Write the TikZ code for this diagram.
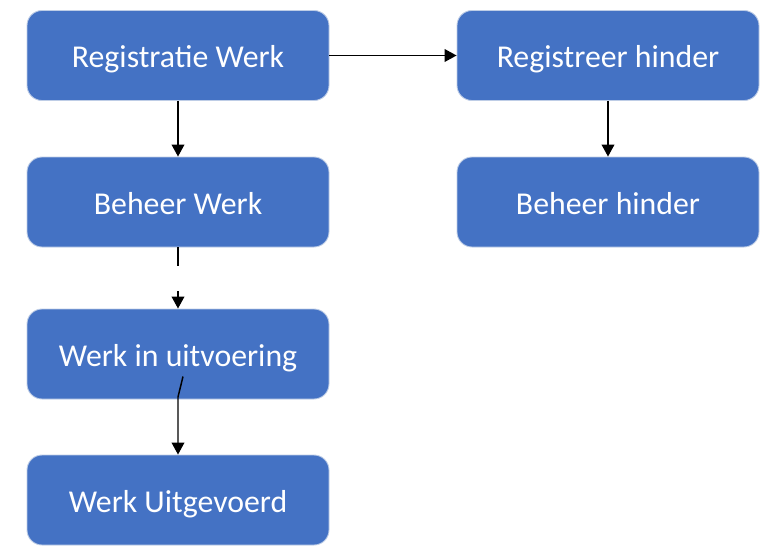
\documentclass[tikz,border=0pt]{standalone}
\usepackage{fontspec}
\setmainfont{Carlito}
\usetikzlibrary{arrows.meta,calc}

\begin{document}
\begin{tikzpicture}[
    stapbox/.style={rectangle, rounded corners=0.3cm, fill={rgb,255:red,68;green,114;blue,196},
      draw={rgb,255:red,190;green,205;blue,230}, line width=0.5pt,
      minimum width=6.04cm, minimum height=1.8cm, text=white,
      text height=16pt, text depth=2pt,
      font=\fontsize{18.1pt}{20pt}\selectfont},
    pijl/.style={-{Triangle[length=6.8pt,width=7.2pt]}, line width=0.85pt}
  ]

  % vaste rand, zelfde maten als het origineel
  \useasboundingbox (0,0) rectangle (15.36,-11.14);

  % linker kolom
  \node[stapbox] (regwerk) at (3.56,-1.11) {Registratie Werk};
  \node[stapbox] (beheerwerk) at (3.56,-4.04) {Beheer Werk};
  \node[stapbox] (uitvoering) at (3.56,-7.08) {Werk in uitvoering};
  \node[stapbox] (uitgevoerd) at (3.56,-10.0) {Werk Uitgevoerd};

  % rechter kolom
  \node[stapbox] (reghinder) at (12.16,-1.11) {Registreer hinder};
  \node[stapbox] (beheerhinder) at (12.16,-4.04) {Beheer hinder};

  % pijlen
  \draw[pijl] (regwerk) -- (reghinder);
  \draw[pijl] (regwerk) -- (beheerwerk);
  \draw[pijl] (reghinder) -- (beheerhinder);

  % onderbroken lijn tussen beheer en uitvoering
  \draw[pijl, dash pattern=on 0.38cm off 0.5cm on 2cm] (beheerwerk) -- (uitvoering);

  % lijn begint in de tekst, knikt en gaat recht naar beneden
  \coordinate (knikstart) at ($(uitvoering.center)+(0.1,-0.45)$);
  \coordinate (knik) at ($(uitvoering.south)+(0,0.05)$);
  \draw[pijl] (knikstart) -- (knik) -- (uitgevoerd.north);

\end{tikzpicture}
\end{document}
